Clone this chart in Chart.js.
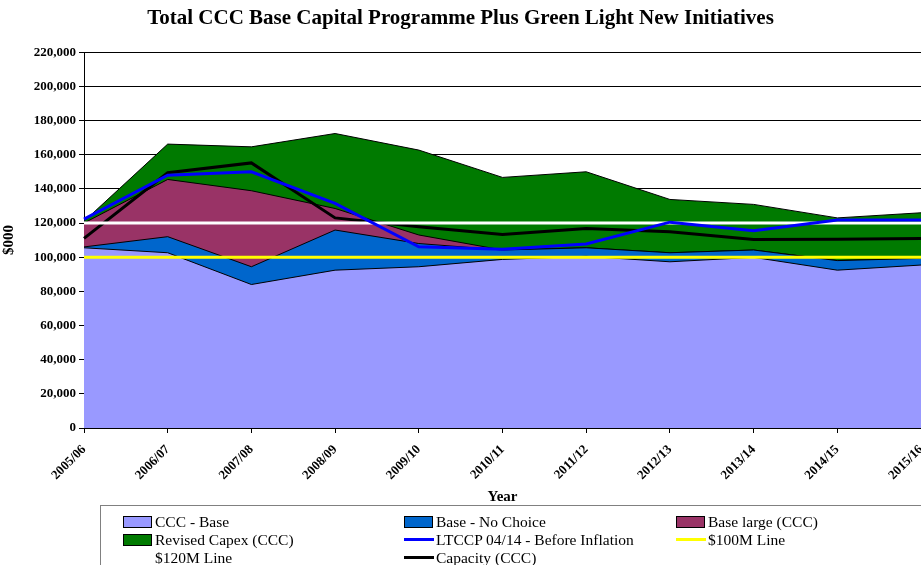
<!DOCTYPE html>
<html>
<head>
<meta charset="utf-8">
<script src="https://cdn.jsdelivr.net/npm/chart.js@4.4.0/dist/chart.umd.min.js"></script>
<style>
body { margin: 0; background: #fff; }
#contenedor { position: relative; width: 921px; height: 565px; overflow: hidden; }
#leyenda {
    position: absolute; left: 100px; top: 505px; width: 840px; height: 80px;
    border: 1px solid #808080;
    font-family: "Liberation Serif", "Times New Roman", serif; font-size: 15.5px; color: #000;
}
.item { position: absolute; white-space: nowrap; line-height: 18px; height: 18px; }
.caja { display: inline-block; width: 27px; height: 10px; border: 1px solid #000; vertical-align: -1px; margin-right: 3px; }
.linea { display: inline-block; width: 30px; height: 3px; vertical-align: 4px; margin-right: 2px; }
</style>
</head>
<body>
<div id="contenedor">
    <canvas id="myChart" width="921" height="565"></canvas>
    <div id="leyenda"></div>
</div>
<script>
// datos (en $000)
var anios = ['2005/06', '2006/07', '2007/08', '2008/09', '2009/10', '2010/11', '2011/12', '2012/13', '2013/14', '2014/15', '2015/16']
var ccc_base = [105500, 102600, 84000, 92400, 94400, 98700, 100500, 97300, 99900, 92400, 95400]
var base_no_choice = [106000, 112000, 94400, 115900, 108000, 104200, 105500, 102600, 104200, 98000, 99300]
var base_large = [120000, 145500, 138900, 128500, 113000, 104200, 105500, 102600, 104200, 98000, 99300]
var revised_capex = [121000, 166200, 164600, 172400, 162700, 146700, 150000, 133800, 130900, 123000, 126000]
var ltccp = [122300, 148000, 150000, 131500, 106100, 104600, 107700, 120500, 115500, 121700, 121700]
var linea_100 = [100000, 100000, 100000, 100000, 100000, 100000, 100000, 100000, 100000, 100000, 100000]
var linea_120 = [120000, 120000, 120000, 120000, 120000, 120000, 120000, 120000, 120000, 120000, 120000]
var capacidad = [111000, 149400, 155200, 123000, 117800, 113300, 116800, 114900, 110400, 110500, 111000]

var fuente = "'Liberation Serif', 'Times New Roman', serif"

function area(nombre, datos, color) {
    return {
        label: nombre,
        data: datos,
        fill: 'origin',
        backgroundColor: color,
        borderColor: '#000000',
        borderWidth: 1,
        pointRadius: 0,
        tension: 0,
        order: 1
    }
}
function linea(nombre, datos, color) {
    return {
        label: nombre,
        data: datos,
        fill: false,
        backgroundColor: color,
        borderColor: color,
        borderWidth: 3,
        pointRadius: 0,
        tension: 0,
        order: 0
    }
}

var series = [
    area('CCC - Base', ccc_base, '#9999FF'),
    area('Base - No Choice', base_no_choice, '#0066CC'),
    area('Base large (CCC)', base_large, '#993366'),
    area('Revised Capex (CCC)', revised_capex, '#007A00'),
    linea('LTCCP 04/14 - Before Inflation', ltccp, '#0000FF'),
    linea('$100M Line', linea_100, '#FFFF00'),
    linea('$120M Line', linea_120, '#FFFFFF'),
    linea('Capacity (CCC)', capacidad, '#000000')
]

var ctx = document.getElementById("myChart").getContext("2d");
new Chart(ctx, {
    type: "line",
    data: {
        labels: anios,
        datasets: series
    },
    options: {
        responsive: false,
        animation: false,
        layout: { padding: { left: 0, right: 0, top: 0, bottom: 57 } },
        plugins: {
            legend: { display: false },
            tooltip: { enabled: false },
            title: {
                display: true,
                text: 'Total CCC Base Capital Programme Plus Green Light New Initiatives',
                color: '#000',
                font: { family: fuente, size: 21, weight: 'bold' },
                padding: { top: 6, bottom: 21 }
            }
        },
        scales: {
            x: {
                offset: false,
                ticks: {
                    autoSkip: false, minRotation: 45, maxRotation: 45, padding: 9,
                    color: '#000', font: { family: fuente, size: 13, weight: 'bold' }
                },
                grid: { drawOnChartArea: false, color: '#000', tickLength: 5 },
                border: { color: '#000', width: 1 },
                title: {
                    display: true, text: 'Year', color: '#000',
                    font: { family: fuente, size: 15, weight: 'bold' },
                    padding: { top: 0, bottom: 2 }
                },
                afterFit: function (s) {
                    s.height = 80
                    s.paddingRight = 0
                }
            },
            y: {
                min: 0,
                max: 220000,
                ticks: {
                    stepSize: 20000, padding: 3, color: '#000',
                    font: { family: fuente, size: 13, weight: 'bold' },
                    callback: function (v) { return v.toLocaleString('en-US') }
                },
                grid: { color: '#000', lineWidth: 1, tickLength: 5 },
                border: { color: '#000', width: 1 },
                title: {
                    display: true, text: '$000', color: '#000',
                    font: { family: fuente, size: 15, weight: 'bold' },
                    padding: { top: 0, bottom: 0 }
                },
                afterFit: function (s) {
                    s.width = 84
                }
            }
        }
    }
});

// leyenda en tres columnas
var leyenda = document.getElementById("leyenda")
var columnas = [22, 303, 575]
var filas = [7, 25, 43]
for (var i = 0; i < series.length; i++) {
    var s = series[i]
    var div = document.createElement('div')
    div.className = 'item'
    div.style.left = columnas[i % 3] + 'px'
    div.style.top = filas[Math.floor(i / 3)] + 'px'
    var marca = document.createElement('span')
    if (s.fill) {
        marca.className = 'caja'
        marca.style.background = s.backgroundColor
    } else {
        marca.className = 'linea'
        marca.style.background = s.borderColor
    }
    div.appendChild(marca)
    div.appendChild(document.createTextNode(s.label))
    leyenda.appendChild(div)
}
</script>
</body>
</html>
